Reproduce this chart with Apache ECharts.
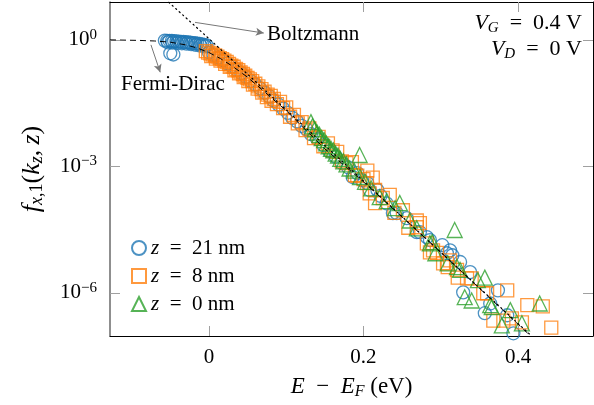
<!DOCTYPE html>
<html>
<head>
<meta charset="utf-8">
<script src="https://cdn.jsdelivr.net/npm/echarts@6/dist/echarts.min.js"></script>
<style>html,body{margin:0;background:#fff}#chart{width:594px;height:405px}</style>
</head>
<body>
<div id="chart"></div>
<script>
const SERIF = '"Liberation Serif", "DejaVu Serif", serif';
const BLUE = "#1f77b4";
const ORANGE = "#ff7f0e";
const GREEN = "#2ca02c";

// axis ranges / ticks
const xRange = [-0.128, 0.497];
const yRange = [9.5e-8, 7.9];
const xTicks = [0, 0.2, 0.4];
const yTicks = [1e-6, 1e-3, 1];
const legendNames = ["z = 21 nm", "z = 8 nm", "z = 0 nm"];

// [E - E_F (eV), f]
const z21 = [
  [-0.057, 0.96], [-0.054, 0.95], [-0.051, 0.95], [-0.048, 0.94], [-0.045, 0.93], [-0.042, 0.92], [-0.039, 0.91],
  [-0.036, 0.90], [-0.033, 0.89], [-0.030, 0.88], [-0.027, 0.87], [-0.024, 0.86], [-0.021, 0.84], [-0.018, 0.83],
  [-0.015, 0.81], [-0.012, 0.80], [-0.009, 0.78], [-0.006, 0.76], [-0.003, 0.74], [-0.050, 0.48], [-0.046, 0.45],
  [-0.053, 0.87], [-0.047, 0.86], [-0.041, 0.84], [-0.035, 0.83], [-0.029, 0.81], [-0.023, 0.79], [-0.017, 0.76],
  [-0.011, 0.73], [-0.005, 0.70],
  [0.000, 0.50], [0.006, 0.44], [0.012, 0.38], [0.018, 0.33], [0.024, 0.275], [0.030, 0.234], [0.036, 0.195],
  [0.042, 0.162], [0.048, 0.132], [0.054, 0.107], [0.060, 0.087], [0.066, 0.071], [0.072, 0.056], [0.078, 0.046],
  [0.084, 0.036], [0.090, 0.029], [0.096, 0.0234], [0.102, 0.0186], [0.108, 0.0141], [0.114, 0.0117], [0.120, 0.0091],
  [0.126, 0.0076], [0.132, 0.0058], [0.140, 0.0045], [0.148, 0.0032], [0.156, 0.0023], [0.164, 0.0017], [0.172, 0.0012],
  [0.180, 9.5e-4], [0.186, 5.6e-4], [0.192, 6.9e-4], [0.198, 4.7e-4], [0.205, 4.0e-4], [0.208, 2.75e-4], [0.218, 2.75e-4],
  [0.222, 2.0e-4], [0.230, 1.32e-4], [0.238, 7.8e-5], [0.243, 7.8e-5], [0.256, 5.9e-5], [0.269, 2.75e-5], [0.273, 2.75e-5],
  [0.282, 2.1e-5], [0.286, 1.78e-5], [0.302, 1.35e-5], [0.308, 8.7e-6], [0.312, 1.02e-5], [0.315, 7.8e-6], [0.325, 5.4e-6],
  [0.329, 1.03e-6], [0.338, 3.1e-6], [0.357, 3.3e-7], [0.364, 5.6e-7], [0.374, 1.15e-6], [0.386, 2.95e-7], [0.394, 1.1e-7],
];
const z8 = [
  [-0.004, 0.54], [-0.001, 0.50], [0.002, 0.48], [0.005, 0.45], [0.008, 0.43], [0.011, 0.40], [0.014, 0.37], [0.017, 0.35],
  [0.020, 0.32], [0.023, 0.30], [0.026, 0.27], [0.029, 0.245], [0.032, 0.23], [0.035, 0.205], [0.038, 0.19], [0.041, 0.17],
  [0.044, 0.155], [0.047, 0.141], [0.050, 0.126], [0.053, 0.115], [0.056, 0.105], [0.060, 0.091], [0.064, 0.079],
  [0.068, 0.068], [0.072, 0.059], [0.076, 0.050], [0.080, 0.047], [0.084, 0.040], [0.088, 0.030], [0.092, 0.034],
  [0.003, 0.41], [0.009, 0.36], [0.015, 0.32], [0.021, 0.27], [0.027, 0.23], [0.033, 0.19], [0.039, 0.16],
  [0.045, 0.13], [0.051, 0.105], [0.057, 0.087], [0.063, 0.070], [0.069, 0.056], [0.075, 0.044], [0.081, 0.036],
  [0.096, 0.024], [0.100, 0.025], [0.105, 0.015], [0.110, 0.0166], [0.115, 0.0105], [0.120, 0.0112], [0.125, 0.0072],
  [0.130, 0.0079], [0.136, 0.0047], [0.142, 0.0050], [0.148, 0.0030], [0.154, 0.0035], [0.160, 0.0024], [0.166, 0.0022],
  [0.172, 0.00132], [0.178, 0.0012], [0.185, 0.00126], [0.189, 6.2e-4], [0.192, 6.0e-4], [0.200, 5.0e-4], [0.205, 7.9e-4],
  [0.2045, 4.0e-4], [0.208, 2.3e-4], [0.212, 5.4e-4], [0.215, 2.75e-4], [0.215, 1.35e-4], [0.225, 1.78e-4], [0.234, 2.1e-4],
  [0.240, 7.9e-5], [0.251, 9.1e-5], [0.258, 3.5e-5], [0.269, 5.2e-5], [0.269, 3.6e-5], [0.273, 4.5e-5], [0.282, 1.5e-5],
  [0.286, 9.1e-6], [0.290, 1.02e-5], [0.295, 8.9e-6], [0.303, 5.0e-6], [0.308, 5.0e-6], [0.309, 4.1e-6], [0.312, 5.9e-6],
  [0.321, 3.5e-6], [0.322, 2.3e-6], [0.334, 2.2e-6], [0.340, 2.2e-6], [0.355, 9.8e-7], [0.360, 9.8e-7], [0.368, 2.2e-7],
  [0.381, 2.2e-7], [0.386, 1.15e-6], [0.392, 2.5e-7], [0.405, 2.0e-7], [0.412, 5.1e-7], [0.432, 4.8e-7], [0.443, 1.5e-7],
];
const z0 = [
  [0.132, 0.0112], [0.134, 0.0089], [0.137, 0.0076], [0.140, 0.0063], [0.143, 0.0056], [0.146, 0.0047], [0.149, 0.0042],
  [0.152, 0.0035], [0.155, 0.0030], [0.158, 0.0026], [0.161, 0.0024], [0.164, 0.0020], [0.167, 0.0018], [0.170, 0.0015],
  [0.174, 0.00132], [0.178, 0.00112], [0.182, 8.9e-4], [0.188, 7.9e-4], [0.195, 0.00186], [0.1955, 5.6e-4], [0.202, 4.3e-4],
  [0.210, 3.0e-4], [0.221, 1.86e-4], [0.230, 1.5e-4], [0.241, 1.02e-4], [0.247, 1.35e-4], [0.260, 5.2e-5], [0.269, 3.4e-5],
  [0.286, 1.5e-5], [0.289, 1.6e-5], [0.293, 8.7e-6], [0.309, 5.0e-6], [0.318, 3.1e-5], [0.321, 4.1e-6], [0.325, 3.5e-6],
  [0.331, 7.9e-7], [0.340, 6.6e-7], [0.348, 2.0e-6], [0.357, 2.3e-6], [0.364, 5.1e-7], [0.366, 4.6e-7], [0.379, 1.7e-7],
  [0.390, 3.9e-7], [0.405, 1.9e-7], [0.428, 5.6e-7],
];
const fermiDirac = [
  [-0.128, 1.0], [-0.09, 0.97], [-0.07, 0.94], [-0.05, 0.88], [-0.03, 0.76], [-0.015, 0.64], [0, 0.5], [0.015, 0.36],
  [0.03, 0.24], [0.05, 0.13], [0.07, 0.063], [0.1, 0.021], [0.15, 0.0026], [0.2, 4.3e-4], [0.3, 9.2e-6], [0.415, 1.0e-7],
];
const boltzmann = [[-0.052, 7.8], [0, 1.07], [0.2, 4.5e-4], [0.415, 1.05e-7]];

// annotation arrows: [from, to]
const boltzmannArrow = [[-0.018, 2.6], [0.071, 1.45]];
const fermiArrow = [[-0.075, 0.76], [-0.063, 0.17]];

const FS = 21;
const rich = {
  i: { fontStyle: "italic", fontFamily: SERIF, fontSize: FS },
  sub: { fontFamily: SERIF, fontSize: 15, padding: [10, 0, 0, 0] },
  subi: { fontFamily: SERIF, fontSize: 15, fontStyle: "italic", padding: [10, 0, 0, 0] },
  sup: { fontFamily: SERIF, fontSize: 15, padding: [0, 0, 10, 0] },
};
const sized = (size) => ({
  ...rich,
  i: { ...rich.i, fontSize: size },
  sub: { ...rich.sub, fontSize: Math.round(size * 0.7) },
  subi: { ...rich.subi, fontSize: Math.round(size * 0.7) },
});
const supLabel = (v) => {
  const p = Math.round(Math.log10(v));
  return "10{sup|" + (p < 0 ? "\u2212" + -p : p) + "}";
};
const tickStyle = { color: "#a0a0a0", width: 1 };
const mathText = (s) => s.replace(/ = /g, "\u2002=\u2002");

function xAxis(position) {
  const bottom = position === "bottom";
  return {
    type: "value", position, min: xRange[0], max: xRange[1],
    axisLine: { show: true, onZero: false, lineStyle: { color: "#000", width: 1 } },
    splitLine: { show: false },
    axisTick: { show: true, inside: true, length: 10, customValues: xTicks, lineStyle: tickStyle },
    axisLabel: { show: bottom, customValues: xTicks, margin: 11, color: "#000", fontFamily: SERIF, fontSize: FS, formatter: (v) => String(v) },
    name: bottom ? "{i|E}\u2002\u2212\u2002{i|E}{subi|F} (eV)" : "",
    nameLocation: "middle", nameGap: 38,
    nameTextStyle: { color: "#000", fontFamily: SERIF, fontSize: 23, rich: sized(23) },
  };
}

function yAxis(position) {
  const left = position === "left";
  return {
    type: "log", logBase: 10, position, min: yRange[0], max: yRange[1],
    axisLine: { show: true, onZero: false, lineStyle: { color: left ? "#6a6a6a" : "#000", width: left ? 1.5 : 1 } },
    splitLine: { show: false },
    minorTick: { show: false },
    axisTick: { show: true, inside: true, length: 10, customValues: yTicks, lineStyle: tickStyle },
    axisLabel: { show: left, customValues: yTicks, margin: 13, color: "#000", fontFamily: SERIF, fontSize: FS, formatter: supLabel, rich },
    name: left ? "{i|f}{subi|x}{sub|,1}({i|k}{subi|z},\u2009{i|z})" : "",
    nameLocation: "middle", nameRotate: 90, nameGap: 64,
    nameTextStyle: { color: "#000", fontFamily: SERIF, fontSize: 26, rich: sized(26) },
  };
}

function scatter(name, data, symbol, size, color) {
  return {
    name, type: "scatter", data, symbol, symbolSize: size,
    itemStyle: { color: "rgba(0,0,0,0)", borderColor: color, borderWidth: 1.3 },
  };
}

const chart = echarts.init(document.getElementById("chart"), null, { renderer: "canvas" });
chart.setOption({
  animation: false,
  grid: { left: 110, right: 1, top: 2, bottom: 69 },
  xAxis: [xAxis("bottom"), xAxis("top")],
  yAxis: [yAxis("left"), yAxis("right")],
  legend: {
    orient: "vertical", left: 126, top: 232, itemWidth: 14, itemHeight: 14, itemGap: 6,
    data: legendNames,
    formatter: (name) => mathText(name).replace(/^z/, "{i|z}"),
    textStyle: { color: "#000", fontFamily: SERIF, fontSize: FS, lineHeight: 22, rich },
  },
  graphic: [
    { type: "text", left: 267, top: 24, style: { text: "Boltzmann", fill: "#000", font: FS + 'px "Liberation Serif"' } },
    { type: "text", left: 121, top: 74, style: { text: "Fermi-Dirac", fill: "#000", font: FS + 'px "Liberation Serif"' } },
    { type: "text", right: 12, top: 12, style: { text: mathText("{i|V}{subi|G} = 0.4 V"), fill: "#000", font: '22px "Liberation Serif"', rich: sized(22) } },
    { type: "text", right: 12, top: 38, style: { text: mathText("{i|V}{subi|D} = 0 V"), fill: "#000", font: '22px "Liberation Serif"', rich: sized(22) } },
  ],
  series: [
    scatter(legendNames[0], z21, "circle", 13, BLUE),
    scatter(legendNames[1], z8, "rect", 13, ORANGE),
    scatter(legendNames[2], z0, "triangle", 15, GREEN),
    {
      name: "Fermi-Dirac", type: "line", data: fermiDirac, showSymbol: false, silent: true,
      lineStyle: { color: "#000", width: 1, type: [6, 4] },
      markLine: {
        silent: true, symbol: ["none", "arrow"], symbolSize: [6, 8],
        lineStyle: { color: "#777", width: 1, type: "solid" }, label: { show: false },
        data: [
          [{ coord: boltzmannArrow[0] }, { coord: boltzmannArrow[1] }],
          [{ coord: fermiArrow[0] }, { coord: fermiArrow[1] }],
        ],
      },
    },
    {
      name: "Boltzmann", type: "line", data: boltzmann, showSymbol: false, silent: true,
      lineStyle: { color: "#000", width: 1.2, type: [1.2, 3.5], cap: "round" },
    },
  ],
});
</script>
</body>
</html>
